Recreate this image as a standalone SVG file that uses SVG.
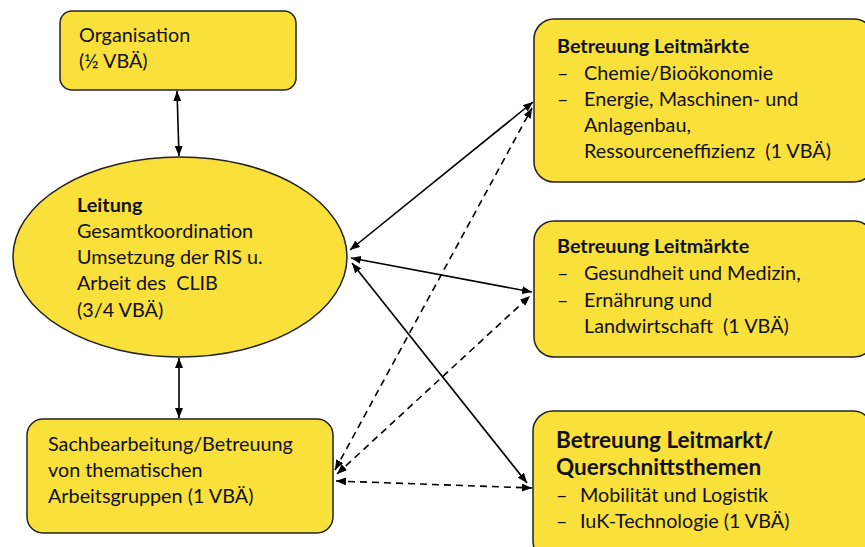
<svg xmlns="http://www.w3.org/2000/svg" width="865" height="547" viewBox="0 0 865 547">
<style>
.box{fill:#F9E03B;stroke:#222;stroke-width:1.5}
.t{font-family:Lato,"Liberation Sans",sans-serif;font-size:19.8px;fill:#111}
.b{font-weight:bold}
.h{font-size:22.5px}
.c{stroke:#000;stroke-width:1.6;fill:none;marker-start:url(#ah);marker-end:url(#ah)}
.d{stroke-dasharray:7,5}
</style>
<defs>
<marker id="ah" viewBox="0 0 10 8" refX="10" refY="4" markerWidth="10" markerHeight="8" markerUnits="userSpaceOnUse" orient="auto-start-reverse">
<path d="M0,0 L10,4 L0,8 z" fill="#000"/>
</marker>
</defs>
<rect width="865" height="547" fill="#fff"/>
<g id="connectors">
<line class="c" x1="177" y1="91" x2="179" y2="156"/>
<line class="c" x1="179" y1="358" x2="179" y2="418"/>
<line class="c" x1="350" y1="250" x2="533" y2="102"/>
<line class="c" x1="351" y1="258" x2="532" y2="292"/>
<line class="c" x1="352" y1="263" x2="527" y2="483"/>
<line class="c d" x1="335" y1="470" x2="532" y2="108"/>
<line class="c d" x1="337" y1="474" x2="530" y2="296"/>
<line class="c d" x1="336" y1="481" x2="532" y2="488"/>
</g>
<g id="organisation">
<rect class="box" x="60" y="11" width="236" height="79" rx="12"/>
<text class="t" x="79" y="42">Organisation</text>
<text class="t" x="79" y="68">(½ VBÄ)</text>
</g>
<g id="leitung">
<ellipse class="box" cx="180" cy="257" rx="167" ry="100"/>
<text class="t b" x="77" y="212">Leitung</text>
<text class="t" x="77" y="238">Gesamtkoordination</text>
<text class="t" x="77" y="264">Umsetzung der RIS u.</text>
<text class="t" x="77" y="290">Arbeit des &#160;CLIB</text>
<text class="t" x="77" y="317">(3/4 VBÄ)</text>
</g>
<g id="sachbearbeitung">
<rect class="box" x="27" y="419" width="306" height="114" rx="16"/>
<text class="t" x="48" y="451">Sachbearbeitung/Betreuung</text>
<text class="t" x="48" y="477">von thematischen</text>
<text class="t" x="48" y="503">Arbeitsgruppen (1 VBÄ)</text>
</g>
<g id="leitmaerkte1">
<rect class="box" x="534" y="19" width="340" height="163" rx="20"/>
<text class="t b" x="557" y="53">Betreuung Leitmärkte</text>
<text class="t" x="557" y="80">–</text><text class="t" x="584" y="80">Chemie/Bioökonomie</text>
<text class="t" x="557" y="106">–</text><text class="t" x="584" y="106">Energie, Maschinen- und</text>
<text class="t" x="584" y="132">Anlagenbau,</text>
<text class="t" x="584" y="158">Ressourceneffizienz &#160;(1 VBÄ)</text>
</g>
<g id="leitmaerkte2">
<rect class="box" x="534" y="221" width="340" height="136" rx="20"/>
<text class="t b" x="557" y="253">Betreuung Leitmärkte</text>
<text class="t" x="557" y="280">–</text><text class="t" x="584" y="280">Gesundheit und Medizin,</text>
<text class="t" x="557" y="307">–</text><text class="t" x="584" y="307">Ernährung und</text>
<text class="t" x="584" y="333">Landwirtschaft &#160;(1 VBÄ)</text>
</g>
<g id="leitmarkt3">
<rect class="box" x="533" y="411" width="340" height="150" rx="20"/>
<text class="t b h" x="556" y="448">Betreuung Leitmarkt/</text>
<text class="t b h" x="556" y="475">Querschnittsthemen</text>
<text class="t" x="556" y="502">–</text><text class="t" x="580" y="502">Mobilität und Logistik</text>
<text class="t" x="556" y="528">–</text><text class="t" x="580" y="528">IuK-Technologie (1 VBÄ)</text>
</g>
</svg>
